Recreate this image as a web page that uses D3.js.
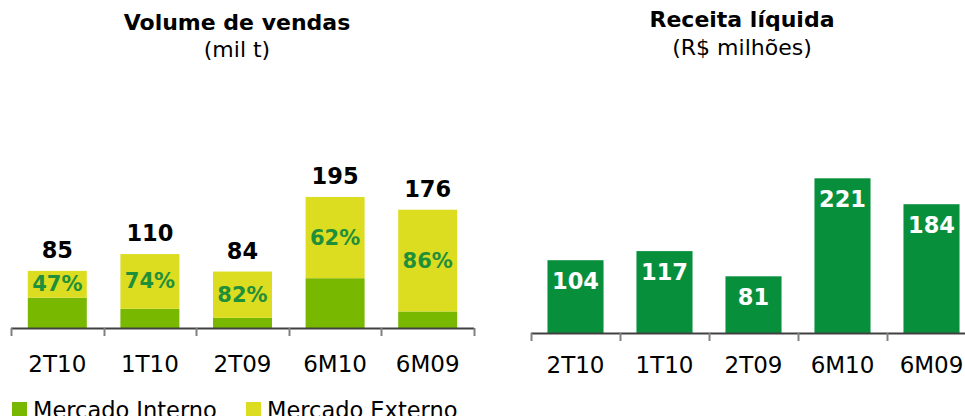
<!DOCTYPE html>
<html>
<head>
<meta charset="utf-8">
<script src="https://cdn.jsdelivr.net/npm/d3@7"></script>
<style>
  body { margin: 0; background: #fff; }
  svg { display: block; font-family: "DejaVu Sans", Verdana, sans-serif; }
</style>
</head>
<body>
<svg id="chart" width="965" height="416"></svg>
<script>
// periods shared by both charts
var periods = ["2T10", "1T10", "2T09", "6M10", "6M09"];

// sales volume (thousand t) and export share (%)
var volumeTotal = [85, 110, 84, 195, 176];
var exportShare = [47, 74, 82, 62, 86];

// net revenue (R$ million)
var revenue = [104, 117, 81, 221, 184];

var legendNames = ["Mercado Interno", "Mercado Externo"];

var colInterno = "#78b800", colExterno = "#dcdc20", colRevenue = "#088f3c", colPct = "#1f8f3a";

var svg = d3.select("#chart");

function drawAxis(g, x, y0, labelY) {
    var r = x.range();
    g.append("line")
        .attr("x1", r[0]).attr("x2", r[1])
        .attr("y1", y0 + 0.5).attr("y2", y0 + 0.5)
        .attr("stroke", "#404040").attr("stroke-width", 2);
    var bounds = d3.range(periods.length + 1).map(function(i){ return r[0] + i * x.step(); });
    g.selectAll(".btick").data(bounds).enter().append("line")
        .attr("class", "btick")
        .attr("x1", function(d){ return Math.round(d) + 0.5; })
        .attr("x2", function(d){ return Math.round(d) + 0.5; })
        .attr("y1", y0).attr("y2", y0 + 8)
        .attr("stroke", "#808080").attr("stroke-width", 2);
    var ax = g.append("g")
        .attr("transform", "translate(0," + labelY + ")")
        .call(d3.axisBottom(x).tickSize(0).tickPadding(0));
    ax.select(".domain").remove();
    ax.selectAll("text")
        .attr("dy", 0).attr("y", 0)
        .attr("font-family", "DejaVu Sans, Verdana, sans-serif")
        .attr("font-size", 23).attr("fill", "#000");
}

function title(cx, y1, y2, t1, t2) {
    svg.append("text").attr("x", cx).attr("y", y1)
        .attr("text-anchor", "middle").attr("font-size", 22).attr("font-weight", "bold")
        .text(t1);
    svg.append("text").attr("x", cx).attr("y", y2)
        .attr("text-anchor", "middle").attr("font-size", 22)
        .text(t2);
}

// ---------- left: Volume de vendas ----------
var xL = d3.scaleBand().domain(periods).range([11, 474]).paddingInner(0.363).paddingOuter(0.1815);
var yL = d3.scaleLinear().domain([0, 200]).range([328, 193.6]);

var volRows = periods.map(function(p, i){
    var ext = volumeTotal[i] * exportShare[i] / 100;
    return {period: p, interno: volumeTotal[i] - ext, externo: ext, total: volumeTotal[i], share: exportShare[i]};
});
var stack = d3.stack().keys(["interno", "externo"])(volRows);
var gL = svg.append("g");

gL.selectAll(".layer").data(stack).enter().append("g")
    .attr("fill", function(d, i){ return i == 0 ? colInterno : colExterno; })
    .selectAll("rect").data(function(d){ return d; }).enter().append("rect")
    .attr("x", function(d){ return xL(d.data.period); })
    .attr("width", xL.bandwidth())
    .attr("y", function(d){ return yL(d[1]); })
    .attr("height", function(d){ return yL(d[0]) - yL(d[1]); });

gL.selectAll(".tot").data(volRows).enter().append("text")
    .attr("x", function(d){ return xL(d.period) + xL.bandwidth() / 2; })
    .attr("y", function(d){ return yL(d.total) - 13; })
    .attr("text-anchor", "middle").attr("font-size", 22.5).attr("font-weight", "bold")
    .text(function(d){ return d.total; });

gL.selectAll(".pct").data(volRows).enter().append("text")
    .attr("x", function(d){ return xL(d.period) + xL.bandwidth() / 2; })
    .attr("y", function(d){ return (yL(d.total) + yL(d.interno)) / 2 + 7; })
    .attr("text-anchor", "middle").attr("font-size", 21).attr("font-weight", "bold")
    .attr("fill", colPct)
    .text(function(d){ return d.share + "%"; });

drawAxis(gL, xL, 328, 372);
title(237, 30, 57, "Volume de vendas", "(mil t)");

// legend (cut by the bottom edge, as in the source)
var lg = svg.append("g");
var legX = [12, 246];
lg.selectAll("rect").data(legendNames).enter().append("rect")
    .attr("x", function(d, i){ return legX[i]; }).attr("y", 402)
    .attr("width", 15).attr("height", 15)
    .attr("fill", function(d, i){ return i == 0 ? colInterno : colExterno; });
lg.selectAll("text").data(legendNames).enter().append("text")
    .attr("x", function(d, i){ return legX[i] + 21; }).attr("y", 418)
    .attr("font-size", 22.5)
    .text(function(d){ return d; });

// ---------- right: Receita líquida ----------
var xR = d3.scaleBand().domain(periods).range([531, 976]).paddingInner(0.37).paddingOuter(0.185);
var yR = d3.scaleLinear().domain([0, 250]).range([333, 158]);
var gR = svg.append("g");

gR.selectAll("rect").data(revenue).enter().append("rect")
    .attr("x", function(d, i){ return xR(periods[i]); })
    .attr("width", xR.bandwidth())
    .attr("y", function(d){ return yR(d); })
    .attr("height", function(d){ return yR(0) - yR(d); })
    .attr("fill", colRevenue);

gR.selectAll(".val").data(revenue).enter().append("text")
    .attr("x", function(d, i){ return xR(periods[i]) + xR.bandwidth() / 2; })
    .attr("y", function(d){ return yR(d) + 29; })
    .attr("text-anchor", "middle").attr("font-size", 22.5).attr("font-weight", "bold")
    .attr("fill", "#fff")
    .text(function(d){ return d; });

drawAxis(gR, xR, 333, 373);
title(742, 27, 55, "Receita líquida", "(R$ milhões)");
</script>
</body>
</html>
